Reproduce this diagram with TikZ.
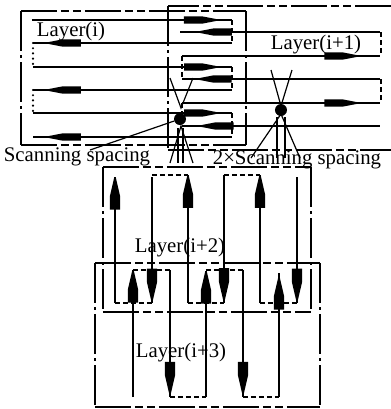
\documentclass[tikz,border=0pt]{standalone}
\usepackage{fontspec}
\setmainfont{Liberation Serif}
\usetikzlibrary{decorations.markings}

\begin{document}
\begin{tikzpicture}[
    x=0.5pt, y=-0.5pt,
    scan/.style={line width=0.95pt},
    vscan/.style={line width=1.3pt},
    turn/.style={line width=0.6pt, dash pattern=on 2.5pt off 1.5pt},
    dotturn/.style={line width=1.2pt, line cap=round, dash pattern=on 0pt off 2.6pt},
    frameh/.style={line width=0.8pt, dash pattern=on 18pt off 2pt on 4pt off 2pt on 4pt off 2pt},
    framev/.style={line width=0.9pt, dash pattern=on 20pt off 2pt on 1.5pt off 2pt},
    hdart/.style={postaction={decorate, decoration={markings, mark=at position #1 with
        {\fill (-18,-3.7) -- (0,-3.7) -- (16,-0.6) -- (16,0.6) -- (0,3.7) -- (-18,3.7) -- cycle;}}}},
    vdart/.style={postaction={decorate, decoration={markings, mark=at position #1 with
        {\fill (-13,-5.2) -- (0,-5.2) -- (19,-0.8) -- (19,0.8) -- (0,5.2) -- (-13,5.2) -- cycle;}}}},
    bead/.style={circle, fill, inner sep=0pt, minimum size=6pt},
    lbl/.style={inner sep=0pt, font=\fontsize{10.4}{12}\selectfont},
  ]
  \useasboundingbox[fill=white] (0,0) rectangle (391,409);

  % layer (i): horizontal passes
  \draw[frameh] (21,11) -- (246,11);
  \draw[frameh] (21,145) -- (246,145);
  \draw[framev] (21,11) -- (21,145);
  \draw[framev] (246,11) -- (246,145);
  \foreach \y/\xa/\xb in {20/32/232, 43/232/33, 67/33/232, 90/232/33, 113/33/232, 137/232/33}
    \draw[scan, hdart=0.85] (\xa,\y) -- (\xb,\y);
  \foreach \ya/\yb in {20/43, 67/90, 113/137}
    \draw[turn] (232,\ya) -- (232,\yb);
  \foreach \ya/\yb in {43/67, 90/113}
    \draw[dotturn] (33,\ya) -- (33,\yb);

  % layer (i+1): offset passes
  \draw[frameh] (391,6) -- (168,6);
  \draw[frameh] (168,150) -- (391,150);
  \draw[framev] (168,6) -- (168,150);
  \foreach \y/\xa/\xb/\p in {32/380/180/0.83, 56/182/380/0.81, 79/380/182/0.84, 103/182/380/0.81, 126/380/182/0.83}
    \draw[scan, hdart=\p] (\xa,\y) -- (\xb,\y);
  \foreach \ya/\yb in {32/56, 79/103}
    \draw[turn] (381,\ya) -- (381,\yb);
  \foreach \ya/\yb in {56/79, 103/126}
    \draw[turn] (182,\ya) -- (182,\yb);

  % layer (i+2): vertical passes
  \draw[frameh] (103,167) -- (311,167);
  \draw[frameh] (103,312) -- (311,312);
  \draw[framev] (103,167) -- (103,312);
  \draw[framev] (311,167) -- (311,312);
  \foreach \x/\ya/\yb/\p in {115/303/177/0.845, 152/177/303/0.83, 188/303/175/0.845, 224/175/303/0.83, 260/303/175/0.845, 297/177/303/0.83}
    \draw[vscan, vdart=\p] (\x,\ya) -- (\x,\yb);
  \foreach \xa/\xb in {152/188, 224/260}
    \draw[turn] (\xa,175) -- (\xb,175);
  \foreach \xa/\xb in {115/152, 188/224, 260/297}
    \draw[turn] (\xa,303) -- (\xb,303);

  % layer (i+3)
  \draw[frameh] (95,263) -- (320,263);
  \draw[frameh] (95,407) -- (320,407);
  \draw[framev] (95,263) -- (95,407);
  \draw[framev] (320,263) -- (320,407);
  \foreach \x/\ya/\yb/\p in {133/397/270/0.845, 170/270/397/0.825, 206/397/271/0.845, 243/270/397/0.825, 279/397/273/0.81}
    \draw[vscan, vdart=\p] (\x,\ya) -- (\x,\yb);
  \foreach \xa/\xb in {133/170, 206/243}
    \draw[turn] (\xa,270) -- (\xb,270);
  \foreach \xa/\xb in {170/206, 243/279}
    \draw[turn] (\xa,397) -- (\xb,397);

  % spacing marks
  \node[bead] (beadi) at (180,119) {};
  \node[bead] (beadj) at (281,110) {};
  \draw[line width=0.6pt] (170,78) -- (181,108) -- (193,78);
  \draw[line width=0.6pt] (170,163) -- (181,126) -- (193,163);
  \draw[line width=0.6pt] (178,128) -- (178,163) (183,128) -- (183,163);
  \draw[line width=0.6pt] (271,70) -- (281,106) -- (292,70);
  \draw[line width=0.6pt] (251,158) -- (281,114) -- (300,158);
  \draw[line width=0.6pt] (277,117) -- (277,158) (285,117) -- (285,158);
  \coordinate (leadi) at (90,150);
  \draw[line width=0.6pt] (beadi) -- (leadi);

  \node[lbl] (li)   at (71,32)   {Layer(i)};
  \node[lbl] (lj)   at (316,45)  {Layer(i+1)};
  \node[lbl] (lk)   at (180,248) {Layer(i+2)};
  \node[lbl] (ll)   at (181,353) {Layer(i+3)};
  \node[lbl] (sp)   at (77,157)  {Scanning spacing};
  \node[lbl] (sp2)  at (297,160) {2×Scanning spacing};
\end{tikzpicture}
\end{document}
